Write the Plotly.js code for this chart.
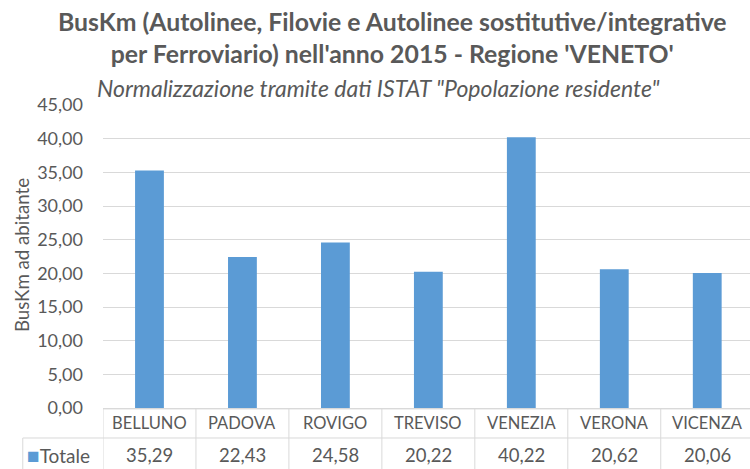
<!DOCTYPE html>
<html><head><meta charset="utf-8">
<script src="https://cdn.plot.ly/plotly-3.0.1.min.js"></script>
<style>html,body{margin:0;padding:0;background:#fff}#chart{width:750px;height:469px}</style>
</head><body><div id="chart"></div>
<script>
const categories = ['BELLUNO','PADOVA','ROVIGO','TREVISO','VENEZIA','VERONA','VICENZA'];
const values = [35.29, 22.43, 24.58, 20.22, 40.22, 20.62, 20.06];
const seriesName = 'Totale';
const titleLines = ["BusKm (Autolinee, Filovie e Autolinee sostitutive/integrative", "per Ferroviario) nell'anno 2015 - Regione 'VENETO'"];
const subtitleText = 'Normalizzazione tramite dati ISTAT "Popolazione residente"';
const yTitle = 'BusKm ad abitante';

const FONT = 'Lato, "Open Sans", Arial, sans-serif';
const TXT = '#595959';
const GRID = '#D9D9D9';
const BAR = '#5B9BD5';
const fmt = v => v.toFixed(2).replace('.', ',');

const idx = categories.map((c, i) => i);
const row1 = -0.003, row2 = -0.099, rowEnd = -0.21;

const shapes = [];
shapes.push({type:'line', xref:'paper', yref:'paper', x0:0, x1:1, y0:row1, y1:row1, line:{color:GRID, width:1}});
shapes.push({type:'line', xref:'paper', yref:'paper', x0:-0.124, x1:1, y0:row2, y1:row2, line:{color:GRID, width:1}});
shapes.push({type:'line', xref:'paper', yref:'paper', x0:-0.124, x1:-0.124, y0:row2, y1:rowEnd, line:{color:GRID, width:1}});
idx.forEach(i => {
  shapes.push({type:'line', xref:'x', yref:'paper', x0:i-0.5, x1:i-0.5, y0:row1, y1:rowEnd, line:{color:GRID, width:1}});
});

const annotations = [];
idx.forEach(i => {
  annotations.push({xref:'x', yref:'paper', x:i, y:-0.048, text:categories[i], showarrow:false,
    xanchor:'center', yanchor:'middle', font:{family:FONT, size:16.5, color:TXT}});
  annotations.push({xref:'x', yref:'paper', x:i, y:-0.155, text:fmt(values[i]), showarrow:false,
    xanchor:'center', yanchor:'middle', font:{family:FONT, size:18.5, color:TXT}});
});
annotations.push({xref:'paper', yref:'paper', x:-0.12, y:-0.155, xanchor:'left', yanchor:'middle', showarrow:false,
  text:'<span style="color:'+BAR+';font-size:21px">■</span>' + seriesName, font:{family:FONT, size:19, color:TXT}});
annotations.push({xref:'paper', yref:'paper', x:-0.125, y:0.505, textangle:-90, showarrow:false,
  xanchor:'center', yanchor:'middle', text:yTitle, font:{family:FONT, size:18.7, color:TXT}});
annotations.push({xref:'paper', yref:'paper', x:0.447, y:1.222, showarrow:false, xanchor:'center', yanchor:'middle',
  text:'<b>'+titleLines.join('<br>')+'</b>', font:{family:FONT, size:24.8, color:TXT}});
annotations.push({xref:'paper', yref:'paper', x:0.426, y:1.056, showarrow:false, xanchor:'center', yanchor:'middle',
  text:'<i>'+subtitleText+'</i>', font:{family:FONT, size:23, color:TXT}});

const trace = {
  type:'bar', x: idx, y: values, name: seriesName,
  marker:{color:BAR}, hoverinfo:'skip'
};

const layout = {
  width:750, height:469,
  margin:{l:103, r:0, t:105, b:61},
  paper_bgcolor:'#fff', plot_bgcolor:'#fff',
  separators:',.',
  showlegend:false,
  bargap:0.69,
  xaxis:{range:[-0.5, 6.46], showticklabels:false, showgrid:false, zeroline:false, showline:false, ticks:'', fixedrange:true},
  yaxis:{range:[0,45], dtick:5, tick0:0, tickformat:'.2f', showgrid:true, gridcolor:GRID, gridwidth:1,
    zeroline:true, zerolinecolor:GRID, zerolinewidth:1, showline:false, ticks:'', ticklabelstandoff:19,
    tickfont:{family:FONT, size:18, color:TXT}, fixedrange:true},
  shapes: shapes,
  annotations: annotations
};

Plotly.newPlot('chart', [trace], layout, {displayModeBar:false, staticPlot:true});
</script>
</body></html>
